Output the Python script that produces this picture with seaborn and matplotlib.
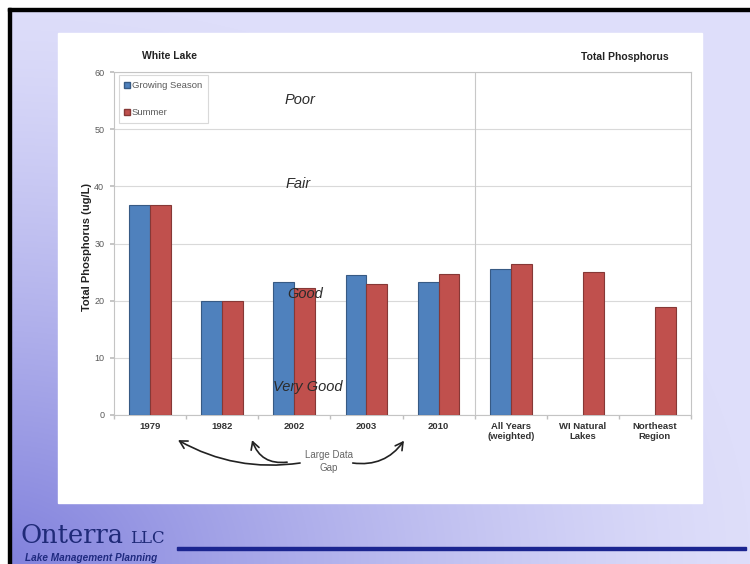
import numpy as np
import pandas as pd
import matplotlib
matplotlib.use("Agg")
import matplotlib.pyplot as plt
from matplotlib.patches import Rectangle
from matplotlib.lines import Line2D
import matplotlib.colors as mcolors
import seaborn as sns

# ---- data -------------------------------------------------------------
sites = ["1979", "1982", "2002", "2003", "2010",
         "All Years\n(weighted)", "WI Natural\nLakes", "Northeast\nRegion"]
growing_season = [36.7, 20.0, 23.3, 24.5, 23.2, 25.5, None, None]
summer = [36.7, 20.0, 22.3, 23.0, 24.7, 26.4, 25.0, 18.9]
series_names = ["Growing Season", "Summer"]
series_colors = ["#4F81BD", "#C0504D"]
y_ticks = [0, 10, 20, 30, 40, 50, 60]
zones = ["Poor", "Fair", "Good", "Very Good"]

df = pd.DataFrame({
    "site": sites * 2,
    "series": [series_names[0]] * len(sites) + [series_names[1]] * len(sites),
    "tp": growing_season + summer,
}).dropna()

W, H = 750, 564
sns.set_theme(style="white")
plt.rcParams["font.family"] = ["Liberation Sans", "DejaVu Sans"]
fig = plt.figure(figsize=(W / 100, H / 100), dpi=100)

# ---- slide background ---------------------------------------------------
bg = fig.add_axes([0, 0, 1, 1])
bg.set_xlim(0, W)
bg.set_ylim(H, 0)
bg.axis("off")
xx, yy = np.meshgrid(np.linspace(0, 1, W), np.linspace(0, 1, H))
r = np.sqrt(xx ** 2 + (1 - yy) ** 2)
w = np.clip(1 - r, 0, 1) ** 1.3
light = np.array([222, 222, 250]) / 255
dark = np.array([128, 128, 220]) / 255
img = light[None, None, :] + (dark - light)[None, None, :] * w[..., None]
bg.imshow(img, extent=(0, W, H, 0), aspect="auto", zorder=0)
bg.add_patch(Rectangle((0, 0), 8, H, color="white", zorder=1))
bg.add_patch(Rectangle((0, 0), W, 8, color="white", zorder=1))
bg.add_patch(Rectangle((8, 8), 3, H, color="black", zorder=2))
bg.add_patch(Rectangle((8, 8), W, 3, color="black", zorder=2))
bg.add_patch(Rectangle((58, 33), 644, 470, color="white", zorder=2))

# company banner
bg.text(21, 543, "Onterra", family="DejaVu Serif", fontsize=18.5, color="#1f2a78",
        ha="left", va="baseline", zorder=3)
bg.text(130, 543, "LLC", family="DejaVu Serif", fontsize=12, color="#1f2a78",
        ha="left", va="baseline", zorder=3)
bg.text(25, 561, "Lake Management Planning", fontsize=7.2, fontweight="bold",
        style="italic", color="#1f2a80", ha="left", va="baseline", zorder=3)
bg.add_patch(Rectangle((177, 547), 569, 3, color="#1b2590", zorder=3))

# titles
bg.text(169, 56, "White Lake", fontsize=7.5, fontweight="bold", color="#222222",
        ha="center", va="center", zorder=3)
bg.text(625, 57, "Total Phosphorus", fontsize=7.5, fontweight="bold",
        color="#222222", ha="center", va="center", zorder=3)

# ---- chart ------------------------------------------------------------
ax = fig.add_axes([114 / W, 1 - 415 / H, 577 / W, 343 / H])
ax.set_facecolor("white")
sns.barplot(data=df, x="site", y="tp", hue="series", order=sites,
            hue_order=series_names, palette=series_colors, width=0.58, gap=0,
            saturation=1, errorbar=None, legend=False, ax=ax, zorder=3)
for p in ax.patches:
    fc = np.array(mcolors.to_rgb(p.get_facecolor()))
    p.set_edgecolor(fc * 0.7)
    p.set_linewidth(0.8)

ax.set_xlim(-0.5, len(sites) - 0.5)
ax.set_ylim(0, 60)
ax.set_yticks(y_ticks)
ax.set_yticklabels([str(v) for v in y_ticks], fontsize=6.5, color="#595959")
ax.set_xticks(range(len(sites)))
ax.set_xticklabels(sites, fontsize=6.8, fontweight="bold", color="#333333",
                   linespacing=1.1)
ax.set_xticks(np.arange(-0.5, len(sites), 1), minor=True)
ax.tick_params(axis="x", which="major", length=0, pad=5)
ax.tick_params(axis="x", which="minor", length=3, color="#bfbfbf", direction="out",
               bottom=True)
ax.tick_params(axis="y", length=3, color="#bfbfbf", direction="out", left=True,
               pad=4)
ax.set_xlabel("")
ax.set_ylabel("Total Phosphorus (ug/L)", fontsize=8, fontweight="bold",
              color="#222222")
ax.yaxis.set_label_coords(-0.038, 0.49)
for s in ax.spines.values():
    s.set_color("#c4c4c4")
    s.set_linewidth(0.8)
ax.grid(axis="y", color="#d9d9d9", linewidth=0.8, zorder=0)
ax.set_axisbelow(True)
ax.axvline(4.5, color="#c8c8c8", linewidth=0.8, zorder=1)

# legend
handles = [Line2D([], [], marker="s", linestyle="", markersize=4,
                  markerfacecolor=c, markeredgecolor=np.array(mcolors.to_rgb(c)) * 0.7)
           for c in series_colors]
leg = ax.legend(handles, series_names, loc="upper left",
                bbox_to_anchor=(0.008, 0.99), borderaxespad=0, frameon=True,
                fancybox=False, edgecolor="#d0d0d0", fontsize=6.8,
                labelspacing=1.9, handlelength=0.6, handletextpad=0.2,
                borderpad=0.6, labelcolor="#595959")
leg.get_frame().set_linewidth(0.8)

# water quality zones
zone_pos = [(2.08, 55.1), (2.05, 40.4), (2.15, 21.2), (2.18, 4.9)]
for name, (zx, zy) in zip(zones, zone_pos):
    ax.text(zx, zy, name, fontsize=10.5, style="italic", color="#2b2b2b",
            ha="center", va="center", zorder=6)

# data-gap note with arrows
ax.text(2.48, -8.1, "Large Data\nGap", fontsize=7, color="#666666",
        ha="center", va="center", linespacing=1.35, clip_on=False)
arrows = [((0.388, -4.4), (2.08, -8.4), -0.17),
          ((1.414, -4.4), (1.90, -8.25), -0.4),
          ((3.52, -4.5), (2.81, -8.4), 0.3)]
for tip, start, rad in arrows:
    ax.annotate("", xy=tip, xytext=start, xycoords="data",
                annotation_clip=False,
                arrowprops=dict(arrowstyle="->,head_length=0.45,head_width=0.25",
                                color="#222222", lw=1.2,
                                connectionstyle=f"arc3,rad={rad}",
                                shrinkA=0, shrinkB=0))

fig.savefig("out.png", dpi=100)
